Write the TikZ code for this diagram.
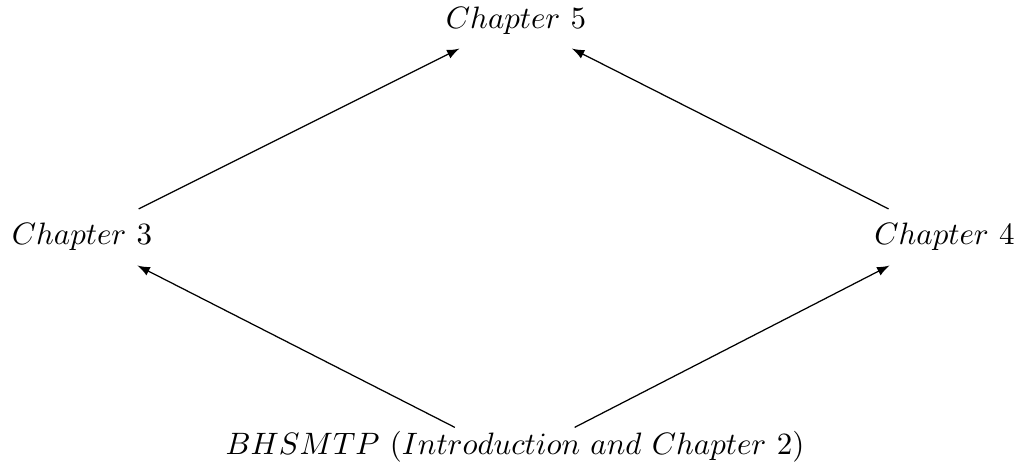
\documentclass[tikz,border=0pt]{standalone}
\usetikzlibrary{positioning,arrows}

\begin{document}
\begin{tikzpicture}
\tikzstyle{chap}=[anchor=base,inner sep=4.5pt];
\tikzstyle{intro}=[anchor=base,inner xsep=4.5pt,inner ysep=1pt,text height=7.4pt,text depth=10pt];
\tikzstyle{link}=[-latex];

\useasboundingbox (0,0) rectangle (11.545,5.324);

        \node[chap] (c5) at (5.858,5.006) {$Chapter~5$};
        \node[chap] (c3) at (0.931,2.543) {$Chapter~3$};
        \node[chap] (c4) at (10.722,2.543) {$Chapter~4$};
        \node[intro] (bh) at (5.846,0.170) {$BHSMTP~(Introduction~and~Chapter~2)$};

        \draw[link] (c3) -- (c5);
        \draw[link] (c4) -- (c5);
        \draw[link] (bh) -- (c3);
        \draw[link] (bh) -- (c4);

\end{tikzpicture}
\end{document}
